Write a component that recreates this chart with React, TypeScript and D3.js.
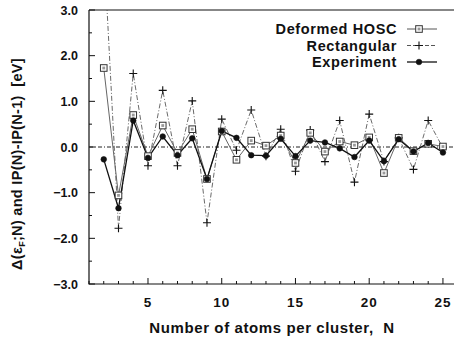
import React from "react";
import * as d3 from "d3";

const N = [2, 3, 4, 5, 6, 7, 8, 9, 10, 11, 12, 13, 14, 15, 16, 17, 18, 19, 20, 21, 22, 23, 24, 25];
const hosc = [1.73, -1.06, 0.7, -0.2, 0.47, -0.13, 0.39, -0.7, 0.34, -0.28, 0.14, 0.03, 0.25, -0.35, 0.31, -0.1, 0.12, 0.04, 0.21, -0.57, 0.2, -0.09, 0.07, 0.01];
const rect = [4.4, -1.78, 1.61, -0.41, 1.24, -0.41, 1.01, -1.66, 0.61, -0.07, 0.81, -0.2, 0.39, -0.53, 0.37, -0.32, 0.58, -0.77, 0.72, -0.32, 0.2, -0.49, 0.58, -0.02];
const expt = [-0.27, -1.34, 0.58, -0.24, 0.23, -0.18, 0.19, -0.7, 0.35, 0.2, -0.18, -0.19, 0.18, -0.2, 0.14, 0.1, -0.03, -0.22, 0.14, -0.31, 0.17, -0.1, 0.09, -0.12];
const yTicks = [3, 2, 1, 0, -1, -2, -3];
const xTicks = [5, 10, 15, 20, 25];
const legendLabels = ["Deformed HOSC", "Rectangular", "Experiment"];

const L = 89, R = 454, T = 10, B = 284;
const FONT = "'Liberation Sans', Arial, sans-serif";

export default function App() {
  const x = d3.scaleLinear().domain([1, 25.75]).range([L, 454]);
  const y = d3.scaleLinear().domain([-3, 3]).range([B, T]);
  const line = (vals: number[]) =>
    d3.line<number>().x((_, i) => x(N[i])).y((v) => y(v))(vals) || "";

  const square = (cx: number, cy: number, k: string) => (
    <g key={k}>
      <rect x={cx - 3.3} y={cy - 3.3} width={6.6} height={6.6} fill="#fff" stroke="#333" strokeWidth={1} />
      <rect x={cx - 1.4} y={cy - 1.4} width={2.8} height={2.8} fill="#999" />
    </g>
  );
  const cross = (cx: number, cy: number, k: string) => (
    <path key={k} d={`M${cx - 4},${cy}H${cx + 4}M${cx},${cy - 4}V${cy + 4}`} stroke="#111" strokeWidth={1.1} />
  );
  const dot = (cx: number, cy: number, k: string) => (
    <circle key={k} cx={cx} cy={cy} r={2.8} fill="#111" stroke="#111" strokeWidth={0.6} />
  );

  const yMinor = d3.range(-3, 3.01, 0.5);
  const xMinor = d3.range(1, 26, 1);

  return (
    <svg width={454} height={345} style={{ position: "absolute", left: 0, top: 0, background: "#fff" }}>
      <defs>
        <clipPath id="plot">
          <rect x={L} y={T} width={R - L} height={B - T} />
        </clipPath>
      </defs>
      <path d={`M${L},${T}H${R}M${L},${T}V${B}H${R}`} fill="none" stroke="#111" strokeWidth={1.2} />
      {yMinor.map((v) => {
        const major = Math.abs(v - Math.round(v)) < 1e-6;
        return <line key={"yt" + v} x1={L} x2={L + (major ? 6 : 3)} y1={y(v)} y2={y(v)} stroke="#111" strokeWidth={1} />;
      })}
      {xMinor.map((v) => {
        const major = v % 5 === 0;
        return <line key={"xt" + v} x1={x(v)} x2={x(v)} y1={B} y2={B - (major ? 6 : 3)} stroke="#111" strokeWidth={1} />;
      })}
      <line x1={L} x2={R} y1={y(0)} y2={y(0)} stroke="#222" strokeWidth={1} strokeDasharray="4,2,1,2" />
      {yTicks.map((v) => (
        <text key={"yl" + v} x={78} y={y(v) + 4.5} textAnchor="end" fontFamily={FONT} fontWeight="bold" fontSize={12.5} fill="#111">
          {d3.format(".1f")(v)}
        </text>
      ))}
      {xTicks.map((v) => (
        <text key={"xl" + v} x={x(v)} y={307} textAnchor="middle" fontFamily={FONT} fontWeight="bold" fontSize={13.5} letterSpacing={1} fill="#111">
          {v}
        </text>
      ))}
      <g clipPath="url(#plot)">
        <path d={line(rect)} fill="none" stroke="#444" strokeWidth={0.8} strokeDasharray="5,2,1,2" />
        <path d={line(hosc)} fill="none" stroke="#666" strokeWidth={1} />
        <path d={line(expt)} fill="none" stroke="#111" strokeWidth={1.3} />
        {rect.map((v, i) => cross(x(N[i]), y(v), "r" + i))}
        {hosc.map((v, i) => square(x(N[i]), y(v), "h" + i))}
        {expt.map((v, i) => dot(x(N[i]), y(v), "e" + i))}
      </g>
      {legendLabels.map((lab, i) => {
        const ly = 29 + i * 16.5;
        return (
          <g key={"lg" + i}>
            <text x={397} y={ly + 5} textAnchor="end" fontFamily={FONT} fontWeight="bold" fontSize={14.5} letterSpacing={0.6} fill="#111">
              {lab}
            </text>
            <line x1={407} x2={437} y1={ly} y2={ly} stroke={i === 2 ? "#111" : "#555"} strokeWidth={i === 2 ? 1.3 : 1} strokeDasharray={i === 1 ? "4,2" : undefined} />
            {i === 0 ? square(419, ly, "ls") : i === 1 ? cross(419, ly, "lc") : dot(419, ly, "ld")}
          </g>
        );
      })}
      <text x={272} y={333} textAnchor="middle" fontFamily={FONT} fontWeight="bold" fontSize={15} letterSpacing={0.6} fill="#111" xmlSpace="preserve">
        Number of atoms per cluster,  N
      </text>
      <text transform="translate(22,164) rotate(-90)" textAnchor="middle" fontFamily={FONT} fontWeight="bold" fontSize={14.5} letterSpacing={0.3} fill="#111" xmlSpace="preserve">
        Δ(ε<tspan fontSize={9} dy={3}>F</tspan><tspan dy={-3}>;N) and IP(N)-IP(N-1)  [eV]</tspan>
      </text>
    </svg>
  );
}
